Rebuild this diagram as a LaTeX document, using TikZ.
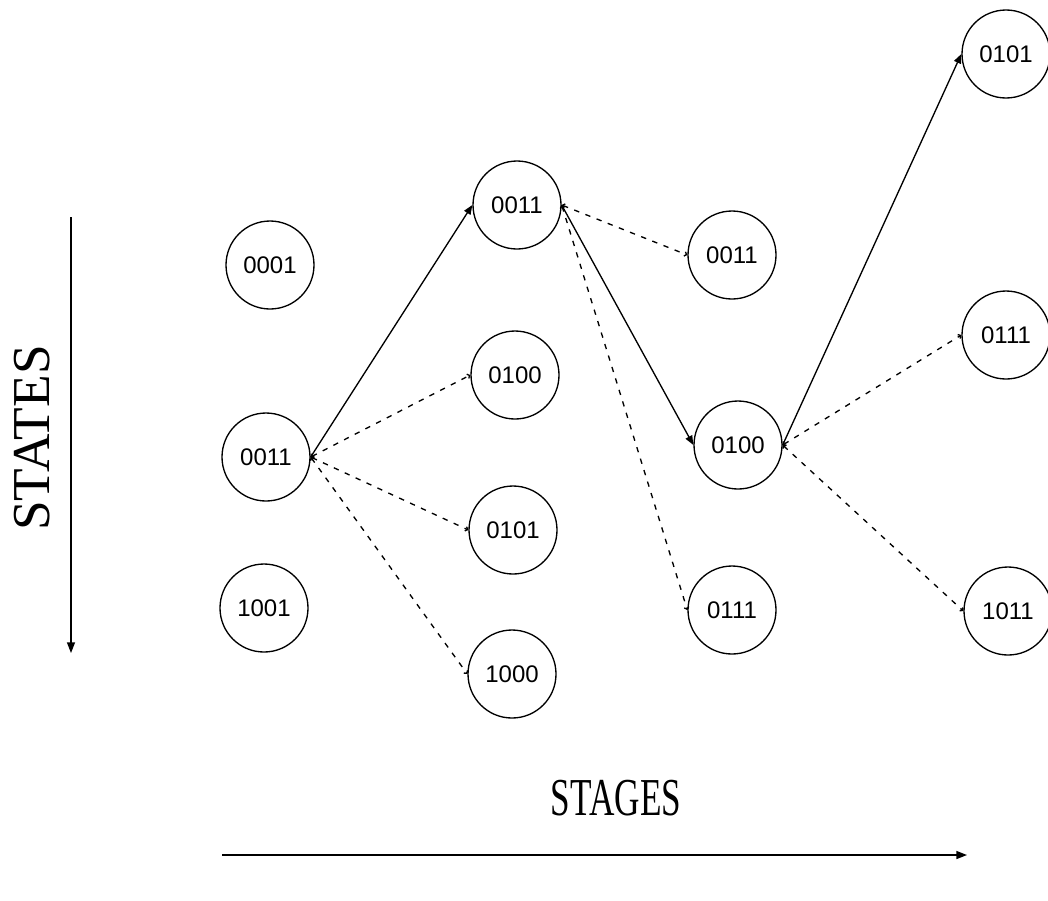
\documentclass[tikz,border=0pt]{standalone}
\usepackage{fontspec}
\setmainfont{Liberation Serif}
\newfontfamily\labelfont{Liberation Sans}
\usetikzlibrary{arrows.meta}
\tikzset{
  state/.style={draw, circle, line width=1pt, minimum size=66pt, inner sep=0pt,
                font=\labelfont\fontsize{18}{20}\selectfont},
  chosen/.style={line width=1pt, -{Triangle[length=7pt,width=5.5pt]}},
  option/.style={line width=1pt, dash pattern=on 4pt off 5pt,
                 {Straight Barb[length=1.5pt,width=3.5pt]}-{Straight Barb[length=1.5pt,width=3.5pt]}},
  axis/.style={line width=1pt, -{Triangle[length=8pt,width=6pt]}},
  axislabel/.style={font=\fontsize{40}{44}\selectfont, inner sep=0pt}
}
\begin{document}
\begin{tikzpicture}[x=0.75pt, y=-0.75pt]
\useasboundingbox (0,0) rectangle (1048,900);

% stage 1
\node[state] (a1) at (270,265) {0001};
\node[state] (a2) at (266,457) {0011};
\node[state] (a3) at (264,608) {1001};
% stage 2
\node[state] (b1) at (517,205) {0011};
\node[state] (b2) at (515,375) {0100};
\node[state] (b3) at (513,530) {0101};
\node[state] (b4) at (512,674) {1000};
% stage 3
\node[state] (c1) at (732,255) {0011};
\node[state] (c2) at (738,445) {0100};
\node[state] (c3) at (732,610) {0111};
% stage 4
\node[state] (d1) at (1006,54) {0101};
\node[state] (d2) at (1006,335) {0111};
\node[state] (d3) at (1008,611) {1011};

% chosen path
\draw[chosen] (a2.east) -- (b1.west);
\draw[chosen] (b1.east) -- (c2.west);
\draw[chosen] (c2.east) -- (d1.west);

% other transitions
\draw[option] (a2.east) -- (b2.west);
\draw[option] (a2.east) -- (b3.west);
\draw[option] (a2.east) -- (b4.west);
\draw[option] (b1.east) -- (c1.west);
\draw[option] (b1.east) -- (c3.west);
\draw[option] (c2.east) -- (d2.west);
\draw[option] (c2.east) -- (d3.west);

% axes
\coordinate (sTop) at (71,217);
\coordinate (sBot) at (71,653);
\draw[axis] (sTop) -- (sBot);
\node[axislabel, rotate=90] (states) at (32,438) {STATES};

\coordinate (gLeft) at (222,855);
\coordinate (gRight) at (967,855);
\draw[axis] (gLeft) -- (gRight);
\node[axislabel] (stages) at (616,798) {\scalebox{0.66}[1]{STAGES}};
\end{tikzpicture}
\end{document}
